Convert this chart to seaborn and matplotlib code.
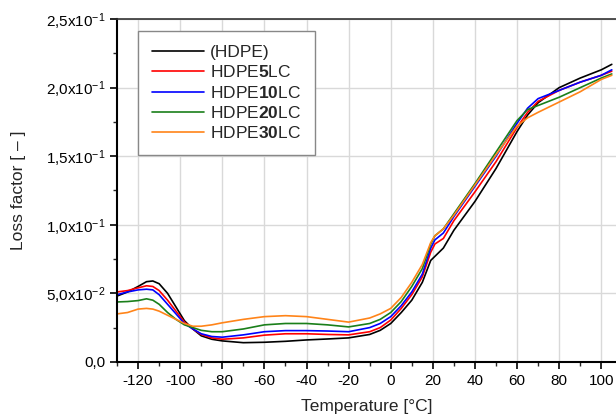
import numpy as np
import pandas as pd
import matplotlib
matplotlib.use('Agg')
import matplotlib.pyplot as plt
from matplotlib.ticker import MultipleLocator, FixedLocator, FixedFormatter
import seaborn as sns

# ── Dados (fator de perda vs temperatura) ────────────────────────────────────
temperatura = [-130, -125, -120, -116, -113, -110, -106, -102, -98, -94, -90,
               -85, -80, -70, -60, -50, -40, -30, -20, -10, -5, 0, 5, 10, 15,
               19, 21, 25, 30, 40, 50, 60, 65, 70, 80, 90, 100, 105]

hdpe = [0.048, 0.051, 0.055, 0.0585, 0.059, 0.057, 0.050, 0.040, 0.030, 0.024,
        0.019, 0.0165, 0.0153, 0.0140, 0.0143, 0.0150, 0.0160, 0.0167, 0.0175,
        0.0200, 0.023, 0.028, 0.036, 0.045, 0.058, 0.074, 0.077, 0.083, 0.096,
        0.117, 0.141, 0.168, 0.180, 0.189, 0.200, 0.207, 0.213, 0.217]

hdpe5 = [0.051, 0.052, 0.054, 0.0555, 0.055, 0.052, 0.045, 0.037, 0.029, 0.024,
         0.020, 0.0175, 0.0165, 0.0175, 0.0195, 0.0205, 0.0205, 0.020, 0.0197,
         0.022, 0.025, 0.0305, 0.039, 0.049, 0.062, 0.080, 0.086, 0.090, 0.103,
         0.124, 0.146, 0.171, 0.182, 0.190, 0.198, 0.204, 0.209, 0.212]

hdpe10 = [0.049, 0.051, 0.0525, 0.053, 0.0525, 0.049, 0.042, 0.035, 0.028,
          0.024, 0.0205, 0.0185, 0.018, 0.0197, 0.022, 0.0228, 0.0228, 0.0225,
          0.022, 0.025, 0.028, 0.033, 0.041, 0.051, 0.064, 0.083, 0.089, 0.094,
          0.106, 0.128, 0.150, 0.174, 0.185, 0.192, 0.198, 0.204, 0.209, 0.213]

hdpe20 = [0.0437, 0.044, 0.0447, 0.046, 0.045, 0.042, 0.036, 0.031, 0.027,
          0.025, 0.023, 0.022, 0.022, 0.024, 0.027, 0.028, 0.028, 0.027,
          0.0255, 0.028, 0.031, 0.036, 0.044, 0.055, 0.068, 0.086, 0.092,
          0.097, 0.108, 0.130, 0.153, 0.176, 0.184, 0.187, 0.193, 0.200,
          0.207, 0.210]

hdpe30 = [0.035, 0.036, 0.0385, 0.039, 0.0385, 0.037, 0.034, 0.031, 0.028,
          0.026, 0.026, 0.027, 0.0285, 0.031, 0.033, 0.0337, 0.033, 0.031,
          0.029, 0.032, 0.035, 0.039, 0.047, 0.058, 0.071, 0.087, 0.092,
          0.097, 0.107, 0.129, 0.151, 0.172, 0.178, 0.182, 0.1895, 0.197,
          0.206, 0.209]

amostras = ['(HDPE)', 'HDPE$\\mathbf{5}$LC', 'HDPE$\\mathbf{10}$LC',
            'HDPE$\\mathbf{20}$LC', 'HDPE$\\mathbf{30}$LC']
cores = ['#000000', '#ff0000', '#0000ff', '#1a7f1a', '#ff8419']

series = [hdpe, hdpe5, hdpe10, hdpe20, hdpe30]
df = pd.concat([pd.DataFrame({'T': temperatura, 'tan': s, 'amostra': nome})
                for nome, s in zip(amostras, series)], ignore_index=True)

# ── Estilo ───────────────────────────────────────────────────────────────────
sns.set_style('whitegrid')
plt.rcParams['font.family'] = ['Liberation Sans', 'DejaVu Sans']
plt.rcParams['mathtext.fontset'] = 'custom'
plt.rcParams['mathtext.rm'] = 'Liberation Sans'
plt.rcParams['mathtext.it'] = 'Liberation Sans:italic'
plt.rcParams['mathtext.bf'] = 'Liberation Sans:bold'
plt.rcParams['axes.unicode_minus'] = False

fig = plt.figure(figsize=(6.16, 4.15), dpi=100)
ax = fig.add_axes([0.19, 0.128, 0.81, 0.826])

sns.lineplot(data=df, x='T', y='tan', hue='amostra', palette=cores,
             hue_order=amostras, linewidth=1.2, ax=ax, sort=False)

ax.set_xlim(-130, 107)
ax.set_ylim(0, 0.25)

ax.xaxis.set_major_locator(MultipleLocator(20))
ax.xaxis.set_minor_locator(MultipleLocator(10))
yt = [0, 0.05, 0.10, 0.15, 0.20, 0.25]
ytl = ['0,0', '5,0x10$^{-2}$', '1,0x10$^{-1}$', '1,5x10$^{-1}$',
       '2,0x10$^{-1}$', '2,5x10$^{-1}$']
ax.yaxis.set_major_locator(FixedLocator(yt))
ax.yaxis.set_major_formatter(FixedFormatter(ytl))
ax.yaxis.set_minor_locator(MultipleLocator(0.025))

ax.grid(True, which='major', color='#d9d9d9', linewidth=1.0)
ax.grid(False, which='minor')
ax.tick_params(which='major', direction='out', length=5, width=1.2,
               labelsize=11, colors='black', bottom=True, left=True)
ax.tick_params(which='minor', direction='out', length=3, width=1.0,
               bottom=True, left=True)

for lado in ['left', 'bottom']:
    ax.spines[lado].set_color('black')
    ax.spines[lado].set_linewidth(1.5)
ax.spines['top'].set_color('#333333')
ax.spines['top'].set_linewidth(1.2)
ax.spines['right'].set_visible(False)

ax.set_xlabel('Temperature [°C]', fontsize=12.5, labelpad=8)
ax.set_ylabel('Loss factor [ – ]', fontsize=12.5, labelpad=14)

leg = ax.legend(loc='upper left', bbox_to_anchor=(0.043, 0.965),
                fontsize=12.5, frameon=True, fancybox=False,
                edgecolor='#888888', framealpha=1, handlelength=3.0,
                handletextpad=0.3, labelspacing=0.25, borderpad=0.8,
                borderaxespad=0)
leg.get_frame().set_linewidth(1.0)

plt.savefig('out.png', dpi=100)
plt.close()
